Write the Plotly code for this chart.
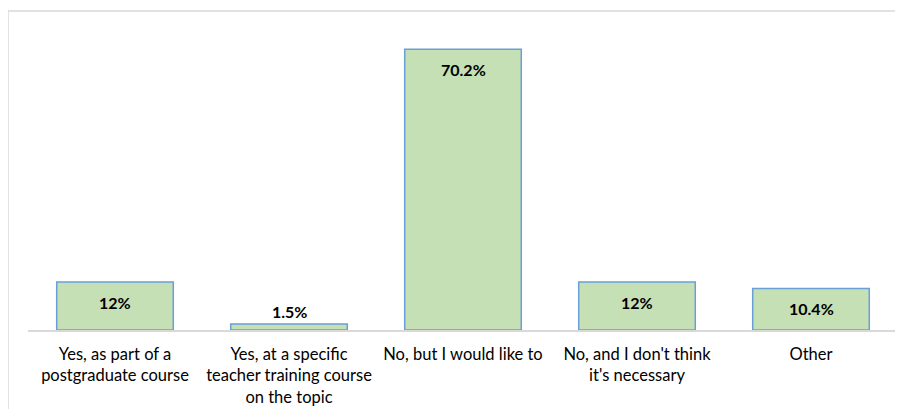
import plotly.graph_objects as go

categories = [
    "Yes, as part of a<br>postgraduate course",
    "Yes, at a specific<br>teacher training course<br>on the topic",
    "No, but I would like to",
    "No, and I don't think<br>it's necessary",
    "Other",
]
values = [12, 1.5, 70.2, 12, 10.4]
value_labels = ["12%", "1.5%", "70.2%", "12%", "10.4%"]

FONT = "Lato, Carlito, Calibri, sans-serif"

fig = go.Figure()
fig.add_trace(go.Bar(
    x=list(range(len(categories))),
    y=values,
    marker=dict(color="#C5E0B4", line=dict(color="#6A9FD8", width=1.5)),
    hoverinfo="skip",
))

for i, (v, t) in enumerate(zip(values, value_labels)):
    inside = v > 5
    fig.add_annotation(
        x=i, y=v, text="<b>%s</b>" % t, showarrow=False,
        yanchor="top" if inside else "bottom",
        yshift=-9 if inside else 1,
        font=dict(family=FONT, size=16, color="#000000"),
    )

fig.add_shape(type="rect", xref="paper", yref="paper",
              x0=-0.023, x1=1.2, y0=-0.5, y1=1.063,
              line=dict(color="#D9D9D9", width=1.5), fillcolor="rgba(0,0,0,0)")

fig.update_layout(
    width=895, height=401,
    margin=dict(l=20, r=5, t=22, b=79, autoexpand=False),
    paper_bgcolor="white", plot_bgcolor="white",
    bargap=0.33, showlegend=False,
    font=dict(family=FONT, size=16.5, color="#000000"),
)
fig.update_xaxes(
    tickmode="array", tickvals=list(range(len(categories))), ticktext=categories,
    range=[-0.5, 4.5], showline=True, linecolor="#D9D9D9", linewidth=2,
    ticks="", showgrid=False, tickfont=dict(family=FONT, size=16.5, color="#000000"),
    tickangle=0, ticklabelstandoff=8, automargin=False,
)
fig.update_yaxes(range=[0, 75], visible=False, showgrid=False, zeroline=False)

fig.write_html("out.html")
